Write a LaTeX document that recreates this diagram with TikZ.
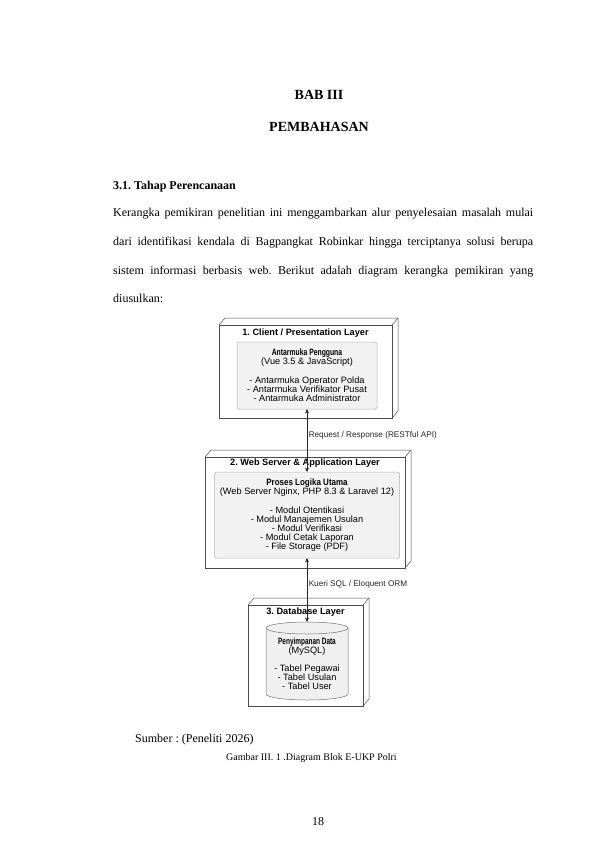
\documentclass[tikz,border=0pt]{standalone}
\usepackage{fontspec}
\setmainfont{Liberation Serif}
\newfontfamily\diagfont{Liberation Sans}
\usepackage{graphicx}
\usetikzlibrary{arrows.meta, positioning, calc}
\frenchspacing

\tikzstyle{layer} = [draw=black!70, fill=white, line width=0.5pt, outer sep=0pt, inner sep=0pt]
\tikzstyle{edge3d} = [draw=black!70, line width=0.5pt]
\tikzstyle{modul} = [draw=black!30, fill=black!5, rounded corners=1.5pt, line width=0.5pt, outer sep=0pt,
  inner sep=0pt, align=center, font=\diagfont\fontsize{9.2}{9}\selectfont]
\tikzstyle{dbbody} = [draw=black!55, fill=black!6, line width=0.5pt]
\tikzstyle{dbtext} = [inner sep=0pt, align=center, font=\diagfont\fontsize{9.2}{9}\selectfont]
\tikzstyle{title} = [inner sep=0pt, font=\diagfont\bfseries\fontsize{9.2}{11}\selectfont]
\tikzstyle{arrow} = [{Stealth[length=4.5pt,width=4pt]}-{Stealth[length=4.5pt,width=4pt]}, line width=0.5pt, black!85]
\tikzstyle{lbl} = [anchor=west, inner sep=1.5pt, font=\diagfont\fontsize{8.2}{10}\selectfont]
\tikzstyle{head} = [anchor=base, inner sep=0pt, font=\bfseries\fontsize{14}{16}\selectfont]
\tikzstyle{body} = [anchor=base west, inner sep=0pt, font=\fontsize{12}{14}\selectfont]

% condensed bold heading inside a module
\newcommand{\boldhd}[2]{\scalebox{#1}[1]{\bfseries #2}}
% the depth edges of a layer box
\newcommand{\cubeedges}[1]{%
  \draw[edge3d] (#1.north west) -- ++(6,-7) -| ($(#1.south east)+(6,-7)$) -- (#1.south east);
  \draw[edge3d] (#1.north east) -- ++(6,-7);}

\begin{document}
\begin{tikzpicture}[x=1pt, y=-1pt]
  \path[use as bounding box, fill=white] (0,0) rectangle (595,842);

  % page text
  \node[head] (bab) at (319,100) {BAB III};
  \node[head] (judul) at (319,132) {PEMBAHASAN};
  \node[body, font=\bfseries\fontsize{12}{14}\selectfont] (sub) at (113,190) {3.1. Tahap Perencanaan};
  \node[body] (par1) at (113,216) {\makebox[420pt][s]{Kerangka pemikiran penelitian ini menggambarkan alur penyelesaian masalah mulai}};
  \node[body] (par2) at (113,245) {\makebox[420pt][s]{dari identifikasi kendala di Bagpangkat Robinkar hingga terciptanya solusi berupa}};
  \node[body] (par3) at (113,274) {\makebox[420pt][s]{sistem informasi berbasis web. Berikut adalah diagram kerangka pemikiran yang}};
  \node[body] (par4) at (113,302) {diusulkan:};

  % 1. client layer
  \node[layer, minimum width=173, minimum height=93] (client) at (305.5,371.5) {};
  \cubeedges{client}
  \node[title] (clientT) at (305.5,333) {1. Client / Presentation Layer};
  \node[modul, minimum width=140, minimum height=67] (ui) at (307,375.5)
    {\boldhd{0.74}{Antarmuka Pengguna}\\(Vue 3.5 \& JavaScript)\\[10pt]- Antarmuka Operator Polda\\- Antarmuka Verifikator Pusat\\- Antarmuka Administrator};

  % 2. web server layer
  \node[layer, minimum width=200, minimum height=111] (server) at (305,512.5) {};
  \cubeedges{server}
  \node[title] (serverT) at (305,463) {2. Web Server \& Application Layer};
  \node[modul, minimum width=185, minimum height=86] (logic) at (307,515)
    {\boldhd{0.87}{Proses Logika Utama}\\(Web Server Nginx, PHP 8.3 \& Laravel 12)\\[10pt]- Modul Otentikasi\\- Modul Manajemen Usulan\\- Modul Verifikasi\\- Modul Cetak Laporan\\- File Storage (PDF)};

  % 3. database layer
  \node[layer, minimum width=115, minimum height=101] (database) at (305.5,655.5) {};
  \cubeedges{database}
  \node[title] (databaseT) at (305.5,612) {3. Database Layer};
  \node[inner sep=0pt, outer sep=0pt, minimum width=82, minimum height=66] (db) at (307,661) {};
  \draw[dbbody] (db.north west) -- (db.south west) arc[start angle=180, end angle=360, x radius=41pt, y radius=6pt]
    -- (db.north east) arc[start angle=0, end angle=180, x radius=41pt, y radius=6pt] -- cycle;
  \draw[dbbody, fill=none] (db.north west) arc[start angle=180, end angle=360, x radius=41pt, y radius=6pt];
  \node[dbtext] (dbT) at (307,664) {\boldhd{0.7}{Penyimpanan Data}\\(MySQL)\\[9pt]- Tabel Pegawai\\- Tabel Usulan\\- Tabel User};

  % connectors
  \draw[arrow] (ui.south) -- node[lbl, pos=0.42] {Request / Response (RESTful API)} (logic.north);
  \draw[arrow] (logic.south) -- node[lbl, pos=0.41] {Kueri SQL / Eloquent ORM} ([yshift=6pt]db.north);

  % caption
  \node[body] (sumber) at (135,742) {Sumber : (Peneliti 2026)};
  \node[body, font=\fontsize{10}{12}\selectfont] (gambar) at (226,760) {Gambar III. 1 .Diagram Blok E-UKP Polri};
  \node[anchor=base, inner sep=0pt, font=\fontsize{12}{14}\selectfont] (hal) at (318,825) {18};
\end{tikzpicture}
\end{document}
